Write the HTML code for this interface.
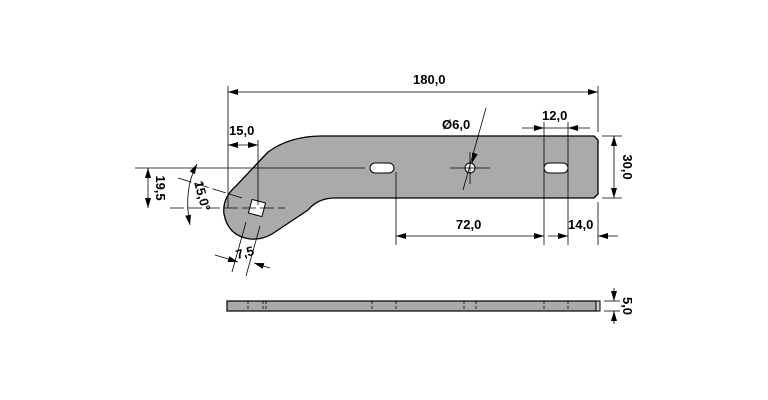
<!DOCTYPE html><html><head><style>body{margin:0;background:#fff}svg{display:block}text{font-family:"Liberation Sans",Arial,sans-serif;font-weight:bold;font-size:13px;fill:#000}</style></head><body>
<svg width="768" height="400" viewBox="0 0 768 400">
<defs><marker id="a" viewBox="0 0 10 6" refX="10" refY="3" markerWidth="10" markerHeight="6" orient="auto-start-reverse" markerUnits="userSpaceOnUse"><path d="M0,0L10,3L0,6z" fill="#000"/></marker></defs>
<g stroke="#000" stroke-width="1" fill="none">
<path d="M598 140 L598 194 L594 198 L335 198 Q318 198 308 210 L272 234 Q262 240 250 239 Q228 236 224 214 Q222 198 236 186 L268 152 Q290 136 322 136 L594 136 Z" fill="#aaa" stroke-width="1.3"/>
<rect x="370" y="163" width="24" height="10" rx="5" fill="#fff"/>
<rect x="544" y="163" width="24" height="10" rx="5" fill="#fff"/>
<circle cx="470" cy="168" r="5" fill="#fff"/>
<rect x="250" y="201" width="14" height="14" fill="#fff" transform="rotate(15 257 208)"/>
<g stroke-width="0.8">
<line x1="228" y1="86" x2="228" y2="208"/><line x1="598" y1="86" x2="598" y2="132"/>
<line x1="228" y1="92" x2="598" y2="92" marker-start="url(#a)" marker-end="url(#a)"/>
<line x1="258" y1="140" x2="258" y2="205"/>
<line x1="228" y1="145" x2="258" y2="145" marker-start="url(#a)" marker-end="url(#a)"/>
<line x1="135" y1="168" x2="365" y2="168"/><line x1="170" y1="208" x2="285" y2="208" stroke-dasharray="14 4"/>
<line x1="148" y1="168" x2="148" y2="208" marker-start="url(#a)" marker-end="url(#a)"/>
<line x1="178" y1="178" x2="242" y2="198" stroke-dasharray="14 4"/>
<path d="M197 164 Q183 190 190 225" marker-start="url(#a)" marker-end="url(#a)"/>
<line x1="246" y1="222" x2="232" y2="272"/><line x1="260" y1="226" x2="246" y2="276"/>
<line x1="215" y1="255" x2="238" y2="262" marker-end="url(#a)"/><line x1="270" y1="268" x2="254" y2="263" marker-end="url(#a)"/>
<line x1="450" y1="168" x2="490" y2="168"/><line x1="470" y1="152" x2="470" y2="184"/>
<line x1="486" y1="108" x2="463" y2="190"/>
<line x1="475" y1="153" x2="472" y2="163" marker-end="url(#a)"/>
<line x1="544" y1="122" x2="544" y2="245"/><line x1="568" y1="122" x2="568" y2="245"/>
<line x1="522" y1="128" x2="544" y2="128" marker-end="url(#a)"/><line x1="590" y1="128" x2="568" y2="128" marker-end="url(#a)"/><line x1="544" y1="128" x2="568" y2="128"/>
<line x1="602" y1="136" x2="622" y2="136"/><line x1="602" y1="198" x2="622" y2="198"/>
<line x1="614" y1="136" x2="614" y2="198" marker-start="url(#a)" marker-end="url(#a)"/>
<line x1="396" y1="172" x2="396" y2="245"/><line x1="598" y1="202" x2="598" y2="245"/>
<line x1="396" y1="236" x2="544" y2="236" marker-start="url(#a)" marker-end="url(#a)"/>
<line x1="548" y1="236" x2="568" y2="236" marker-end="url(#a)"/><line x1="618" y1="236" x2="598" y2="236" marker-end="url(#a)"/>
</g>
<rect x="227" y="301" width="371" height="10" fill="#aaa" stroke-width="1.2"/>
<rect x="596" y="301" width="4" height="10" fill="#ccc"/>
<g stroke-dasharray="3 2" stroke-width="0.8"><line x1="248" y1="301" x2="248" y2="311"/><line x1="263" y1="301" x2="263" y2="311"/><line x1="266" y1="301" x2="266" y2="311"/><line x1="372" y1="301" x2="372" y2="311"/><line x1="396" y1="301" x2="396" y2="311"/><line x1="464" y1="301" x2="464" y2="311"/><line x1="476" y1="301" x2="476" y2="311"/><line x1="544" y1="301" x2="544" y2="311"/><line x1="568" y1="301" x2="568" y2="311"/></g>
<g stroke-width="0.8"><line x1="604" y1="301" x2="620" y2="301"/><line x1="604" y1="311" x2="620" y2="311"/>
<line x1="614" y1="288" x2="614" y2="301" marker-end="url(#a)"/><line x1="614" y1="324" x2="614" y2="311" marker-end="url(#a)"/></g>
</g>
<text x="413" y="84">180,0</text>
<text x="229" y="135">15,0</text>
<text x="442" y="129">Ø6,0</text>
<text x="542" y="120">12,0</text>
<text x="456" y="229">72,0</text>
<text x="568" y="229">14,0</text>
<text transform="translate(156 188) rotate(90)" text-anchor="middle">19,5</text>
<text transform="translate(198 197) rotate(75)" text-anchor="middle">15,0°</text>
<text transform="translate(246 257) rotate(-15)" text-anchor="middle">7,5</text>
<text transform="translate(623 167) rotate(90)" text-anchor="middle">30,0</text>
<text transform="translate(623 306) rotate(90)" text-anchor="middle">5,0</text>
</svg></body></html>
